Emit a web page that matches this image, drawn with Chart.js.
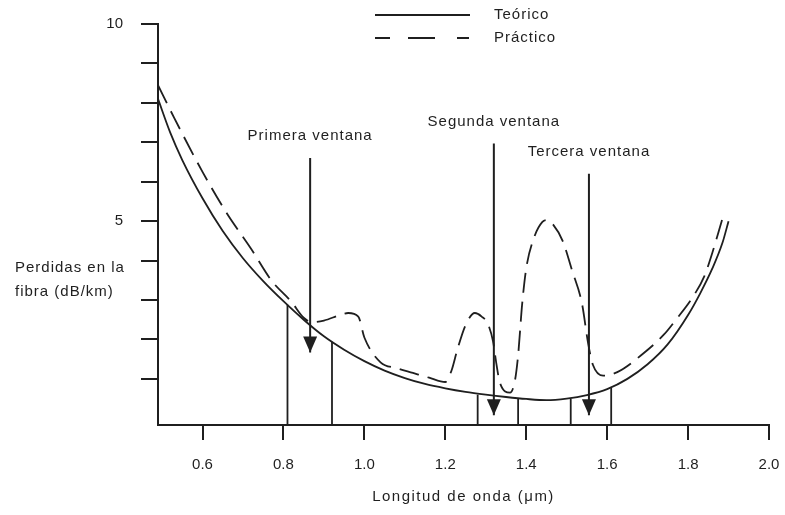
<!DOCTYPE html>
<html>
<head>
<meta charset="utf-8">
<script src="https://cdn.jsdelivr.net/npm/chart.js@4.4.1/dist/chart.umd.min.js"></script>
<style>
  body { margin: 0; background: #fff; }
  canvas { display: block; }
</style>
</head>
<body>
<canvas id="lossChart" width="785" height="515"></canvas>
<script>
// Wavelength (um) vs fibre loss (dB/km)
const theoryX = [0.49, 0.52, 0.55, 0.60, 0.65, 0.70, 0.75, 0.80, 0.85, 0.90, 0.95, 1.00, 1.05, 1.10, 1.15, 1.20, 1.25, 1.30, 1.35, 1.40, 1.45, 1.50, 1.55, 1.60, 1.65, 1.70, 1.75, 1.80, 1.83, 1.86, 1.885, 1.90];
const theoryY = [8.1, 7.25, 6.55, 5.58, 4.75, 4.06, 3.48, 2.97, 2.5, 2.08, 1.74, 1.45, 1.21, 1.02, 0.87, 0.76, 0.67, 0.60, 0.54, 0.49, 0.46, 0.50, 0.59, 0.74, 1.0, 1.37, 1.88, 2.62, 3.17, 3.8, 4.45, 5.0];

const practiceX = [0.49, 0.53, 0.60, 0.66, 0.72, 0.77, 0.82, 0.85, 0.87, 0.90, 0.94, 0.96, 0.985, 1.00, 1.04, 1.08, 1.12, 1.16, 1.20, 1.215, 1.23, 1.25, 1.273, 1.29, 1.305, 1.318, 1.326, 1.335, 1.36, 1.372, 1.38, 1.39, 1.40, 1.42, 1.44, 1.452, 1.466, 1.49, 1.513, 1.538, 1.553, 1.565, 1.59, 1.625, 1.69, 1.74, 1.77, 1.81, 1.84, 1.86, 1.884];
const practiceY = [8.45, 7.62, 6.25, 5.2, 4.3, 3.5, 2.95, 2.55, 2.44, 2.48, 2.62, 2.67, 2.58, 2.05, 1.42, 1.27, 1.15, 1.03, 0.92, 1.2, 1.75, 2.36, 2.67, 2.58, 2.4, 1.95, 1.4, 0.9, 0.65, 0.95, 1.6, 2.9, 3.8, 4.6, 4.98, 5.03, 4.92, 4.5, 3.76, 2.9, 1.9, 1.35, 1.08, 1.17, 1.65, 2.12, 2.5, 3.05, 3.6, 4.2, 5.03];

// transmission windows: edges and where each edge meets the theoretical curve
const windowEdges = [0.81, 0.92, 1.28, 1.38, 1.51, 1.61];
const windowTops = [2.88, 1.94, 0.6, 0.5, 0.5, 0.77];

// arrows pointing at each window
const arrowNames = ['Primera ventana', 'Segunda ventana', 'Tercera ventana'];
const arrowX = [0.866, 1.32, 1.555];
const arrowTop = [6.6, 6.97, 6.2];
const arrowTip = [1.67, 0.08, 0.08];

const xTicks = [0.6, 0.8, 1.0, 1.2, 1.4, 1.6, 1.8, 2.0];
const yTicks = [1, 2, 3, 4, 5, 6, 7, 8, 9, 10];
const yLabelled = [5, 10];
const seriesNames = ['Teórico', 'Práctico'];
const yTitle = ['Perdidas en la', 'fibra (dB/km)'];
const xTitle = 'Longitud de onda (μm)';

const X_MIN = 0.49, Y_MIN = -0.17;
const ink = '#1f1f1f';
const fontFamily = "'Liberation Sans', Arial, Helvetica, sans-serif";

const toPoints = (xs, ys) => xs.map((x, i) => ({ x: x, y: ys[i] }));

const datasets = [
    {
        label: seriesNames[0],
        data: toPoints(theoryX, theoryY),
        borderColor: ink,
        borderWidth: 1.8,
        pointRadius: 0,
        cubicInterpolationMode: 'monotone'
    },
    {
        label: seriesNames[1],
        data: toPoints(practiceX, practiceY),
        borderColor: ink,
        borderWidth: 1.8,
        borderDash: [20, 9],
        pointRadius: 0,
        cubicInterpolationMode: 'monotone'
    }
];

windowEdges.forEach((x, i) => {
    datasets.push({
        label: 'window' + i,
        data: [{ x: x, y: Y_MIN }, { x: x, y: windowTops[i] }],
        borderColor: ink,
        borderWidth: 1.8,
        pointRadius: 0
    });
});

arrowX.forEach((x, i) => {
    datasets.push({
        label: 'arrow' + i,
        data: [{ x: x, y: arrowTop[i] }, { x: x, y: arrowTip[i] }],
        borderColor: ink,
        borderWidth: 2,
        pointRadius: 0
    });
});

// arrow heads, arrow labels, legend, axis captions
const decorations = {
    id: 'decorations',
    afterDatasetsDraw(chart) {
        const { ctx, scales: { x, y } } = chart;
        ctx.save();
        ctx.fillStyle = ink;
        arrowX.forEach((v, i) => {
            const px = x.getPixelForValue(v);
            const py = y.getPixelForValue(arrowTip[i]);
            ctx.beginPath();
            ctx.moveTo(px - 7, py - 16);
            ctx.lineTo(px + 7, py - 16);
            ctx.lineTo(px, py);
            ctx.closePath();
            ctx.fill();
        });
        ctx.restore();
    },
    afterDraw(chart) {
        const { ctx, chartArea, scales: { x, y } } = chart;
        ctx.save();
        ctx.fillStyle = ink;
        ctx.strokeStyle = ink;
        ctx.font = '15px ' + fontFamily;
        ctx.letterSpacing = '1px';
        ctx.textAlign = 'center';
        ctx.textBaseline = 'middle';
        arrowNames.forEach((name, i) => {
            ctx.fillText(name, x.getPixelForValue(arrowX[i]), y.getPixelForValue(arrowTop[i]) - 22);
        });

        // legend
        ctx.lineWidth = 1.8;
        ctx.beginPath();
        ctx.moveTo(375, 15);
        ctx.lineTo(470, 15);
        ctx.stroke();
        ctx.setLineDash([15, 18, 27, 22, 12, 100]);
        ctx.beginPath();
        ctx.moveTo(375, 38);
        ctx.lineTo(470, 38);
        ctx.stroke();
        ctx.setLineDash([]);
        ctx.textAlign = 'left';
        ctx.fillText(seriesNames[0], 494, 15);
        ctx.fillText(seriesNames[1], 494, 38);

        // y caption, written horizontally left of the axis
        ctx.fillText(yTitle[0], 15, 268);
        ctx.fillText(yTitle[1], 15, 292);

        // x caption
        ctx.textAlign = 'center';
        ctx.letterSpacing = '1.5px';
        ctx.fillText(xTitle, (chartArea.left + chartArea.right) / 2, 497);
        ctx.restore();
    }
};

new Chart(document.getElementById('lossChart'), {
    type: 'line',
    data: { datasets: datasets },
    options: {
        responsive: false,
        animation: false,
        layout: { padding: { top: 24, right: 16, left: 0, bottom: 0 } },
        plugins: {
            legend: { display: false },
            tooltip: { enabled: false }
        },
        scales: {
            x: {
                type: 'linear',
                min: X_MIN,
                max: 2.0,
                afterBuildTicks: scale => { scale.ticks = xTicks.map(v => ({ value: v })); },
                afterFit: scale => {
                    scale.height = 90;
                    scale.paddingLeft = 0;
                    scale.paddingRight = 0;
                },
                ticks: {
                    autoSkip: false,
                    maxRotation: 0,
                    padding: 16,
                    color: ink,
                    font: { family: fontFamily, size: 15 },
                    callback: v => v.toFixed(1)
                },
                grid: { drawOnChartArea: false, tickLength: 15, color: ink, lineWidth: 2 },
                border: { color: ink, width: 2 }
            },
            y: {
                min: Y_MIN,
                max: 10,
                afterBuildTicks: scale => { scale.ticks = yTicks.map(v => ({ value: v })); },
                afterFit: scale => {
                    scale.width = 158;
                    scale.paddingTop = 0;
                    scale.paddingBottom = 0;
                },
                ticks: {
                    padding: 18,
                    color: ink,
                    font: { family: fontFamily, size: 15 },
                    callback: v => yLabelled.includes(v) ? String(v) : ''
                },
                grid: { drawOnChartArea: false, tickLength: 17, color: ink, lineWidth: 2 },
                border: { color: ink, width: 2 }
            }
        }
    },
    plugins: [decorations]
});
</script>
</body>
</html>
